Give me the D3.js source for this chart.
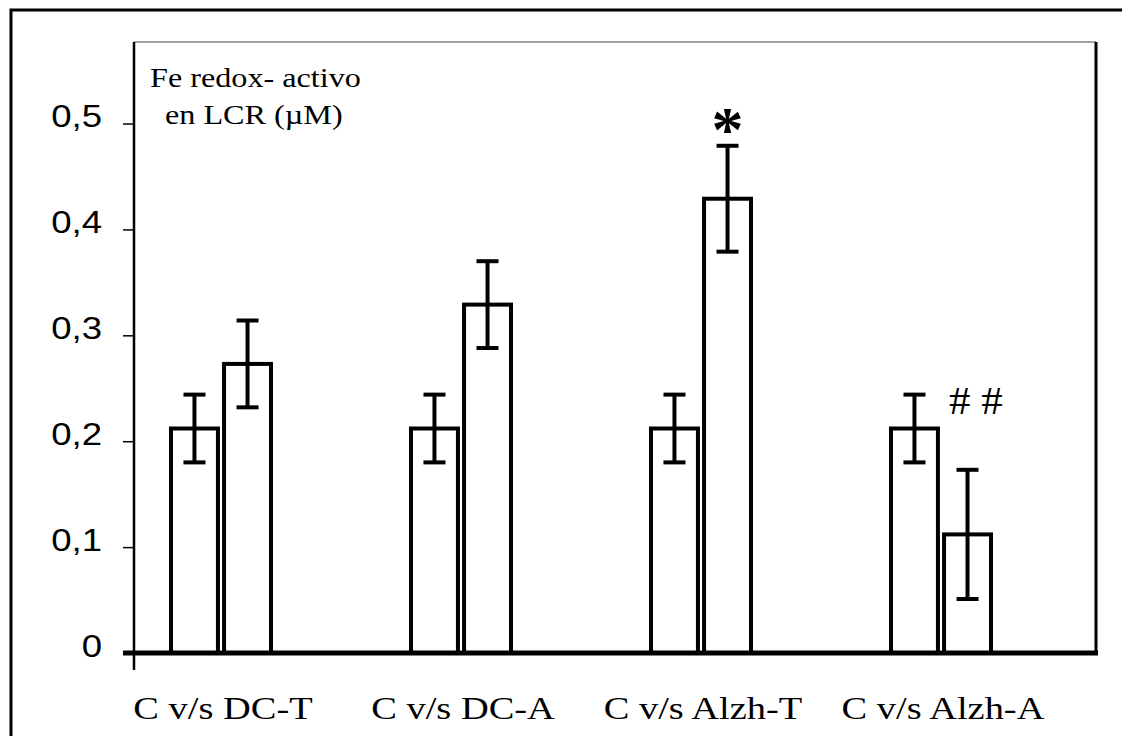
<!DOCTYPE html>
<html>
<head>
<meta charset="utf-8">
<script src="https://cdn.jsdelivr.net/npm/d3@7"></script>
<style>
  body { margin: 0; background: #fff; }
  svg { display: block; }
  .serif { font-family: 'Liberation Serif', 'Times New Roman', Times, serif; }
  .sans { font-family: 'Liberation Sans', Arial, Helvetica, sans-serif; }
</style>
</head>
<body>
<script>
// data
const groups = ['C v/s DC-T', 'C v/s DC-A', 'C v/s Alzh-T', 'C v/s Alzh-A']
const series = ['C', 'P']
const control = [0.212, 0.212, 0.212, 0.212]
const controlErr = [0.032, 0.032, 0.032, 0.032]
const patient = [0.273, 0.329, 0.429, 0.112]
const patientErr = [0.041, 0.041, 0.050, 0.061]
const yTicks = [0, 0.1, 0.2, 0.3, 0.4, 0.5]
const marks = [{ group: 'C v/s Alzh-T', text: '*' }, { group: 'C v/s Alzh-A', text: '# #' }]

const w = 1122
const h = 736
const plotLeft = 134
const plotRight = 1096
const plotTop = 42
const base = 653
const stretch = 1.2

const svg = d3.select('body')
    .append('svg')
    .attr('width', w)
    .attr('height', h)

svg.append('rect').attr('width', w).attr('height', h).attr('fill', '#fff')

// outer frame
svg.append('rect')
    .attr('x', 11).attr('y', 10)
    .attr('width', 1140).attr('height', 800)
    .attr('fill', 'none').attr('stroke', '#000').attr('stroke-width', 3)

const yScale = d3.scaleLinear()
    .domain([0, 0.577])
    .range([base, plotTop])

const xScale = d3.scaleBand()
    .domain(groups)
    .range([101, 1061])

const xSub = d3.scaleBand()
    .domain(series)
    .range([-52, 52])
    .paddingInner(0.04)

// plot box
svg.append('line').attr('x1', plotLeft).attr('x2', plotRight).attr('y1', plotTop).attr('y2', plotTop)
    .attr('stroke', '#444').attr('stroke-width', 1.2)
svg.append('line').attr('x1', plotRight).attr('x2', plotRight).attr('y1', plotTop).attr('y2', base)
    .attr('stroke', '#000').attr('stroke-width', 3)

const comma = d3.formatLocale({ decimal: ',', thousands: '.', grouping: [3], currency: ['', ''] })
const fmt = d => d === 0 ? '0' : comma.format('.1f')(d)

const yAxis = svg.append('g')
    .attr('transform', `translate(${plotLeft},0)`)
    .call(d3.axisLeft(yScale).tickValues(yTicks).tickSize(11).tickFormat(fmt))
yAxis.attr('font-family', null).attr('font-size', null)
yAxis.select('.domain').remove()
yAxis.selectAll('.tick line').attr('stroke-width', 1.5)
yAxis.selectAll('.tick text')
    .attr('class', 'sans')
    .attr('font-size', 31)
    .attr('x', -32 / 1.18)
    .attr('dy', '0.1em')
    .attr('transform', 'scale(1.18,1)')
    .attr('fill', '#000')

svg.append('line').attr('x1', plotLeft).attr('x2', plotLeft).attr('y1', plotTop).attr('y2', 670)
    .attr('stroke', '#000').attr('stroke-width', 2.5)

// bars
const rows = groups.map((g, i) => [
    { group: g, key: 'C', value: control[i], err: controlErr[i] },
    { group: g, key: 'P', value: patient[i], err: patientErr[i] }
]).flat()

const cx = d => xScale(d.group) + xScale.bandwidth() / 2 + xSub(d.key)

svg.selectAll('rect.bar')
    .data(rows)
    .enter()
    .append('rect')
    .attr('class', 'bar')
    .attr('x', d => cx(d) + 2)
    .attr('width', xSub.bandwidth() - 4)
    .attr('y', d => yScale(d.value))
    .attr('height', d => base - yScale(d.value))
    .attr('fill', '#fff')
    .attr('stroke', '#000')
    .attr('stroke-width', 4)

// error bars
const eb = svg.selectAll('g.err')
    .data(rows)
    .enter()
    .append('g')
    .attr('class', 'err')
    .attr('stroke', '#000')
    .attr('stroke-width', 4)
const mid = d => cx(d) + xSub.bandwidth() / 2
eb.append('line')
    .attr('x1', mid).attr('x2', mid)
    .attr('y1', d => yScale(d.value + d.err)).attr('y2', d => yScale(d.value - d.err))
eb.append('line')
    .attr('x1', d => mid(d) - 11).attr('x2', d => mid(d) + 11)
    .attr('y1', d => yScale(d.value + d.err)).attr('y2', d => yScale(d.value + d.err))
eb.append('line')
    .attr('x1', d => mid(d) - 11).attr('x2', d => mid(d) + 11)
    .attr('y1', d => yScale(d.value - d.err)).attr('y2', d => yScale(d.value - d.err))

// baseline
svg.append('line').attr('x1', 123).attr('x2', 1098).attr('y1', base).attr('y2', base)
    .attr('stroke', '#000').attr('stroke-width', 5)

// category labels
svg.selectAll('text.cat')
    .data(groups)
    .enter()
    .append('text')
    .attr('class', 'serif')
    .attr('transform', d => `translate(${xScale(d) + xScale.bandwidth() / 2 + 2},719) scale(1.24,1)`)
    .attr('text-anchor', 'middle')
    .attr('font-size', 31)
    .text(d => d)

// significance marks
const iT = groups.indexOf(marks[0].group)
svg.append('text')
    .attr('class', 'serif')
    .attr('x', xScale(marks[0].group) + xScale.bandwidth() / 2 + xSub('P') + xSub.bandwidth() / 2)
    .attr('y', yScale(patient[iT] + patientErr[iT]) + 5)
    .attr('text-anchor', 'middle')
    .attr('font-weight', 'bold')
    .attr('font-size', 64)
    .text(marks[0].text)

const iA = groups.indexOf(marks[1].group)
svg.append('text')
    .attr('class', 'serif')
    .attr('transform', `translate(${xScale(marks[1].group) + xScale.bandwidth() / 2 + 8},${yScale(control[iA] + controlErr[iA]) + 19}) scale(1.1,1)`)
    .attr('font-size', 39)
    .text(marks[1].text)

// y label inside plot
const lab = svg.append('g')
    .attr('class', 'serif')
    .attr('font-size', 28)
lab.append('text').attr('transform', `translate(150,87) scale(1.15,1)`).text('Fe redox- activo')
lab.append('text').attr('transform', `translate(165,124) scale(1.15,1)`).text('en LCR (\u00b5M)')
</script>
</body>
</html>
